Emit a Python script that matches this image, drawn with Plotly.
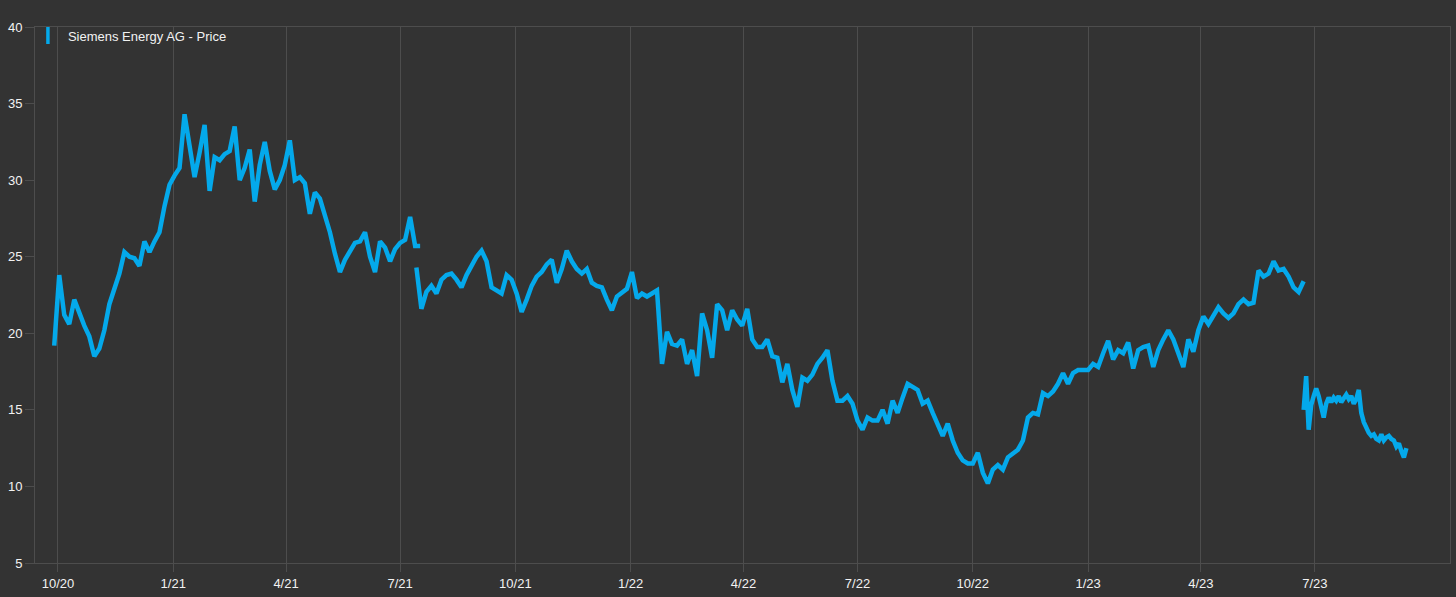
import pandas as pd
import plotly.graph_objects as go

# ---- data (prices in EUR) ----
series_name = "Siemens Energy AG - Price"

seg1_start = "2020-09-28"   # sampled every 4 days
seg1_price = [19.2, 23.8, 21.2, 20.6, 22.2, 21.3, 20.5, 19.8, 18.5, 19.0,
              20.2, 21.9, 23.0, 23.9, 25.3, 25.0, 24.9, 24.4, 26.0, 25.3,
              26.0, 26.6, 28.3, 29.7, 30.3, 30.8, 34.3, 32.2, 30.2, 31.8,
              33.6, 29.3, 31.5, 31.3, 31.7, 31.9, 33.5, 30.0, 30.8, 32.0,
              28.6, 31.0, 32.5, 30.6, 29.4, 30.0, 31.0, 32.6, 30.0, 30.2,
              29.8, 27.8, 29.2, 28.8, 27.8, 26.6, 25.2, 24.0, 24.8, 25.4,
              25.9, 26.0, 26.6, 25.0, 24.0, 26.0, 25.6, 24.7, 25.5, 25.9,
              26.1, 27.6, 25.7, 25.7]

seg2_start = "2021-07-14"   # sampled every 4 days
seg2_price = [24.3, 21.6, 22.7, 23.1, 22.6, 23.5, 23.8, 23.9, 23.5, 23.0,
              23.8, 24.4, 25.0, 25.4, 24.7, 23.0, 22.8, 22.6, 23.8, 23.5,
              22.6, 21.4, 22.2, 23.1, 23.7, 24.0, 24.5, 24.8, 23.3, 24.2,
              25.4, 24.7, 24.2, 23.9, 24.2, 23.3, 23.1, 23.0, 22.2, 21.5,
              22.4, 22.7, 22.9, 24.0, 22.3, 22.6, 22.4, 22.6, 22.8, 18.0,
              20.1, 19.3, 19.2, 19.6, 18.0, 18.9, 17.2, 21.3, 20.2, 18.4,
              21.9, 21.5, 20.2, 21.5, 20.9, 20.5, 21.6, 19.6, 19.1, 19.1,
              19.6, 18.5, 18.4, 16.8, 18.0, 16.3, 15.2, 17.1, 16.9, 17.3,
              18.0, 18.4, 18.9, 16.9, 15.6, 15.6, 15.9, 15.4, 14.3, 13.7,
              14.5, 14.3, 14.3, 15.0, 14.1, 15.6, 14.8, 15.8, 16.7, 16.5,
              16.3, 15.4, 15.6, 14.8, 14.1, 13.3, 14.1, 13.0, 12.2, 11.7,
              11.5, 11.5, 12.2, 10.9, 10.2, 11.1, 11.4, 11.1, 11.9, 12.2,
              12.4, 13.0, 14.5, 14.8, 14.7, 16.1, 15.9, 16.2, 16.7, 17.4,
              16.7, 17.4, 17.6, 17.6, 17.6, 18.0, 17.8, 18.7, 19.5, 18.3,
              18.9, 18.7, 19.4, 17.7, 18.9, 19.1, 19.2, 17.8, 18.9, 19.6,
              20.2, 19.6, 18.7, 17.8, 19.6, 18.8, 20.2, 21.1, 20.6, 21.1,
              21.7, 21.3, 21.0, 21.3, 21.9, 22.2, 21.9, 22.0, 24.1, 23.7,
              23.9, 24.7, 24.1, 24.2, 23.7, 23.0, 22.7, 23.4]

seg3_start = "2023-06-22"   # sampled every 2 days
seg3_price = [15.0, 17.2, 13.7, 15.3, 15.9, 16.4, 15.9, 15.2, 14.5, 15.4,
              15.8, 15.5, 15.8, 15.6, 15.9, 15.5, 15.8, 16.0, 15.7, 15.9,
              15.4, 15.7, 16.3, 14.8, 14.2, 13.8, 13.5, 13.3, 13.4, 13.1,
              13.0, 13.4, 13.0, 13.2, 13.3, 13.1, 13.0, 12.6, 12.8, 12.3,
              11.9, 12.5]

y_ticks = [5, 10, 15, 20, 25, 30, 35, 40]
x_ticks = ["2020-10-01", "2021-01-01", "2021-04-01", "2021-07-01",
           "2021-10-01", "2022-01-01", "2022-04-01", "2022-07-01",
           "2022-10-01", "2023-01-01", "2023-04-01", "2023-07-01"]

seg1_dates = pd.date_range(seg1_start, periods=len(seg1_price), freq="4D")
seg2_dates = pd.date_range(seg2_start, periods=len(seg2_price), freq="4D")
seg3_dates = pd.date_range(seg3_start, periods=len(seg3_price), freq="2D")

LINE = "#04A9EB"
BG = "#333333"
GRID = "#4d4d4d"
TXT = "#f2f2f2"
FONT = "Liberation Sans, Arial, sans-serif"

fig = go.Figure()
for d, p in [(seg1_dates, seg1_price), (seg2_dates, seg2_price), (seg3_dates, seg3_price)]:
    fig.add_trace(go.Scatter(x=d, y=p, mode="lines", showlegend=False,
                             line=dict(color=LINE, width=4.5), name=series_name))

# legend entry
fig.add_trace(go.Scatter(x=[None], y=[None], mode="markers", name=series_name,
                         marker=dict(symbol="line-ns", size=12,
                                     line=dict(color=LINE, width=3.5), color=LINE)))

fig.update_layout(
    width=1456, height=597,
    margin=dict(l=35, r=6, t=27, b=34, pad=0),
    paper_bgcolor=BG, plot_bgcolor=BG,
    font=dict(family=FONT, size=13, color=TXT),
    showlegend=True,
    legend=dict(x=-0.005, y=1.012, xanchor="left", yanchor="top",
                bgcolor="rgba(0,0,0,0)", font=dict(size=13, color=TXT)),
)
fig.update_xaxes(
    type="date",
    range=["2020-09-12 16:00", "2023-10-16 19:00"],
    tickvals=x_ticks, tickformat="%-m/%y",
    showgrid=True, gridcolor=GRID, gridwidth=1,
    ticks="outside", ticklen=8, tickcolor=GRID,
    showline=True, linecolor=GRID, linewidth=1, mirror=True,
    zeroline=False, tickfont=dict(size=13, color=TXT),
)
fig.update_yaxes(
    range=[5, 40], tickvals=y_ticks,
    showgrid=False, zeroline=False,
    ticks="outside", ticklen=9, tickcolor=GRID,
    showline=True, linecolor=GRID, linewidth=1, mirror=True,
    tickfont=dict(size=13, color=TXT),
)

fig.write_html("out.html", config={"displayModeBar": False},
               post_script="document.body.style.margin='0px';")
